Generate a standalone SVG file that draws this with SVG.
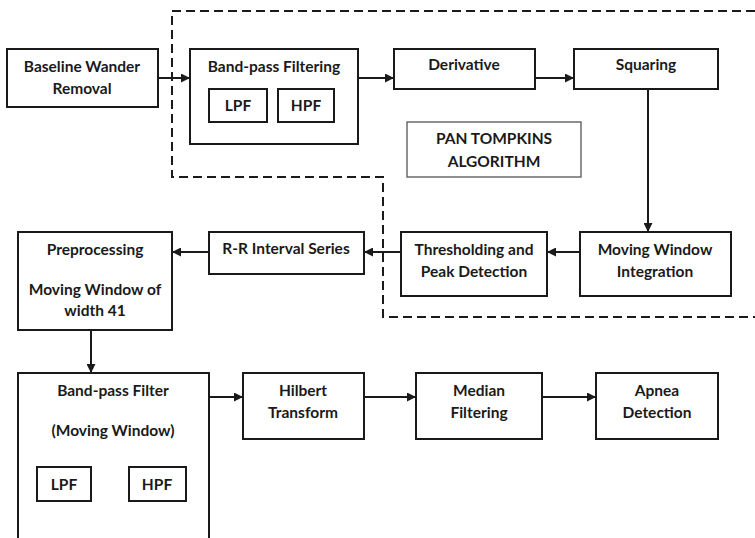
<svg xmlns="http://www.w3.org/2000/svg" width="755" height="538" viewBox="0 0 755 538">
  <defs>
    <marker id="arrow" viewBox="0 0 10 10" refX="10" refY="5" markerWidth="9" markerHeight="9" markerUnits="userSpaceOnUse" orient="auto">
      <path d="M0,0 L10,5 L0,10 z" fill="#1a1a1a"/>
    </marker>
    <style>
      .box { fill: #fff; stroke: #1a1a1a; stroke-width: 2; }
      .thin { fill: #fff; stroke: #555; stroke-width: 1.3; }
      .lbl { font-family: Lato, "Liberation Sans", sans-serif; font-weight: bold; font-size: 15.5px; fill: #1a1a1a; text-anchor: middle; dominant-baseline: central; }
      .edge { fill: none; stroke: #1a1a1a; stroke-width: 2; marker-end: url(#arrow); }
      .dash { fill: none; stroke: #1a1a1a; stroke-width: 2; stroke-dasharray: 9 5; }
    </style>
  </defs>
  <rect width="755" height="538" fill="#fff"/>

  <!-- Pan-Tompkins algorithm boundary -->
  <path class="dash" d="M755,11 H172 V177 H383 V317 H755"/>

  <!-- connectors -->
  <g id="connectors">
    <line class="edge" x1="158" y1="78" x2="190" y2="78"/>
    <line class="edge" x1="358" y1="78" x2="394" y2="78"/>
    <line class="edge" x1="535" y1="78" x2="574" y2="78"/>
    <line class="edge" x1="648" y1="89" x2="648" y2="232"/>
    <line class="edge" x1="580" y1="252" x2="547" y2="252"/>
    <line class="edge" x1="401" y1="252" x2="364" y2="252"/>
    <line class="edge" x1="209" y1="252" x2="172" y2="252"/>
    <line class="edge" x1="91" y1="330" x2="91" y2="373"/>
    <line class="edge" x1="209" y1="397" x2="243" y2="397"/>
    <line class="edge" x1="364" y1="397" x2="416" y2="397"/>
    <line class="edge" x1="542" y1="397" x2="596" y2="397"/>
  </g>

  <g id="baseline">
    <rect class="box" x="7" y="49" width="151" height="58"/>
    <text class="lbl" x="82" y="66">Baseline Wander</text>
    <text class="lbl" x="82" y="88">Removal</text>
  </g>

  <g id="bandpass-filtering">
    <rect class="box" x="190" y="49" width="168" height="95"/>
    <text class="lbl" x="274" y="66">Band-pass Filtering</text>
    <rect class="box" x="209" y="89" width="58" height="33"/>
    <text class="lbl" x="238" y="105">LPF</text>
    <rect class="box" x="278" y="89" width="56" height="33"/>
    <text class="lbl" x="306" y="105">HPF</text>
  </g>

  <g id="derivative">
    <rect class="box" x="394" y="49" width="141" height="40"/>
    <text class="lbl" x="464" y="64">Derivative</text>
  </g>

  <g id="squaring">
    <rect class="box" x="574" y="49" width="144" height="40"/>
    <text class="lbl" x="646" y="64">Squaring</text>
  </g>

  <g id="pan-tompkins">
    <rect class="thin" x="407" y="122" width="174" height="55"/>
    <text class="lbl" x="494" y="138">PAN TOMPKINS</text>
    <text class="lbl" x="494" y="161">ALGORITHM</text>
  </g>

  <g id="moving-window-integration">
    <rect class="box" x="580" y="232" width="151" height="64"/>
    <text class="lbl" x="655" y="249">Moving Window</text>
    <text class="lbl" x="655" y="271">Integration</text>
  </g>

  <g id="thresholding">
    <rect class="box" x="401" y="232" width="146" height="64"/>
    <text class="lbl" x="474" y="249">Thresholding and</text>
    <text class="lbl" x="474" y="271">Peak Detection</text>
  </g>

  <g id="rr-interval">
    <rect class="box" x="209" y="232" width="155" height="42"/>
    <text class="lbl" x="286" y="248">R-R Interval Series</text>
  </g>

  <g id="preprocessing">
    <rect class="box" x="18" y="232" width="154" height="98"/>
    <text class="lbl" x="95" y="249">Preprocessing</text>
    <text class="lbl" x="95" y="289">Moving Window of</text>
    <text class="lbl" x="95" y="310">width 41</text>
  </g>

  <g id="bandpass-filter">
    <path class="box" d="M18,540 V373 H209 V540"/>
    <text class="lbl" x="113" y="390">Band-pass Filter</text>
    <text class="lbl" x="113" y="430">(Moving Window)</text>
    <rect class="box" x="37" y="467" width="54" height="34"/>
    <text class="lbl" x="64" y="484">LPF</text>
    <rect class="box" x="129" y="467" width="57" height="34"/>
    <text class="lbl" x="157" y="484">HPF</text>
  </g>

  <g id="hilbert">
    <rect class="box" x="243" y="373" width="121" height="66"/>
    <text class="lbl" x="303" y="390">Hilbert</text>
    <text class="lbl" x="303" y="412">Transform</text>
  </g>

  <g id="median">
    <rect class="box" x="416" y="373" width="126" height="66"/>
    <text class="lbl" x="479" y="390">Median</text>
    <text class="lbl" x="479" y="412">Filtering</text>
  </g>

  <g id="apnea">
    <rect class="box" x="596" y="373" width="122" height="66"/>
    <text class="lbl" x="657" y="390">Apnea</text>
    <text class="lbl" x="657" y="412">Detection</text>
  </g>
</svg>
